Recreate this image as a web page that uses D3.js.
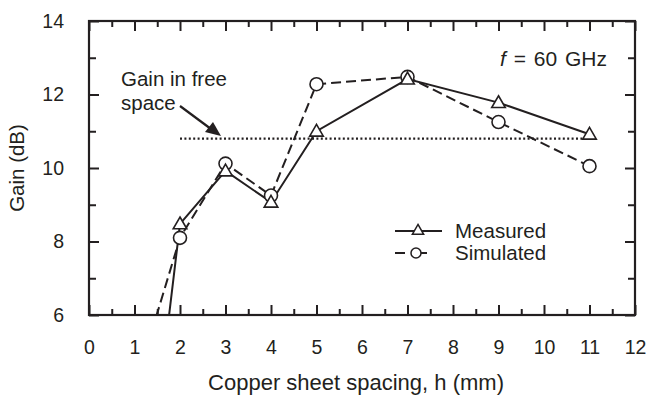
<!DOCTYPE html>
<html><head><meta charset="utf-8">
<script src="https://cdn.jsdelivr.net/npm/d3@7"></script>
<style>body{margin:0;background:#fff}svg{display:block}text{font-family:"Liberation Sans",Arial,sans-serif;fill:#231f20}</style>
</head><body><svg id="c" width="649" height="398"></svg>
<script>
const measuredX = [1.5, 2, 3, 4, 5, 7, 9, 11];
const measuredY = [3.3, 8.48, 9.92, 9.07, 11.0, 12.42, 11.78, 10.92];
const simulatedX = [1, 2, 3, 4, 5, 7, 9, 11];
const simulatedY = [4.0, 8.1, 10.12, 9.25, 12.28, 12.48, 11.25, 10.05];
const freeSpaceX = [2, 11.1];
const freeSpaceY = [10.8, 10.8];
const xTicks = [0,1,2,3,4,5,6,7,8,9,10,11,12];
const yTicks = [6,8,10,12,14];

const ink = "#231f20";
const svg = d3.select("#c");
const L=89,R=635,T=21,B=315;
const x = d3.scaleLinear().domain([0,12]).range([L,R]);
const y = d3.scaleLinear().domain([6,14]).range([B,T]);

svg.append("defs").append("clipPath").attr("id","clip")
  .append("rect").attr("x",L).attr("y",T).attr("width",R-L).attr("height",B-T);

function styleAxis(g){ g.select(".domain").remove(); g.selectAll("line").attr("stroke",ink).attr("stroke-width",2); g.selectAll("text").attr("font-size",19.5).style("font-family","'Liberation Sans',Arial,sans-serif").attr("fill",ink); }

const xMinor = d3.range(0.5,12,1);
const yMinor = d3.range(7,14,2);
// bottom
svg.append("g").attr("transform",`translate(0,${B})`).call(d3.axisBottom(x).tickValues(xTicks).tickSizeInner(-10).tickSizeOuter(0).tickPadding(25).tickFormat(d3.format("d"))).call(styleAxis);
svg.append("g").attr("transform",`translate(0,${B})`).call(d3.axisBottom(x).tickValues(xMinor).tickSizeInner(-6).tickSizeOuter(0).tickFormat("")).call(styleAxis);
// top
svg.append("g").attr("transform",`translate(0,${T})`).call(d3.axisTop(x).tickValues(xTicks).tickSizeInner(-10).tickSizeOuter(0).tickFormat("")).call(styleAxis);
svg.append("g").attr("transform",`translate(0,${T})`).call(d3.axisTop(x).tickValues(xMinor).tickSizeInner(-6).tickSizeOuter(0).tickFormat("")).call(styleAxis);
// left
svg.append("g").attr("transform",`translate(${L},0)`).call(d3.axisLeft(y).tickValues(yTicks).tickSizeInner(-10).tickSizeOuter(0).tickPadding(25).tickFormat(d3.format("d"))).call(styleAxis);
svg.append("g").attr("transform",`translate(${L},0)`).call(d3.axisLeft(y).tickValues(yMinor).tickSizeInner(-7).tickSizeOuter(0).tickFormat("")).call(styleAxis);
// right
svg.append("g").attr("transform",`translate(${R},0)`).call(d3.axisRight(y).tickValues(yTicks).tickSizeInner(-10).tickSizeOuter(0).tickFormat("")).call(styleAxis);
svg.append("g").attr("transform",`translate(${R},0)`).call(d3.axisRight(y).tickValues(yMinor).tickSizeInner(-7).tickSizeOuter(0).tickFormat("")).call(styleAxis);

svg.append("rect").attr("x",L).attr("y",T).attr("width",R-L).attr("height",B-T)
  .attr("fill","none").attr("stroke",ink).attr("stroke-width",2.2);

// free space dotted line
svg.append("line").attr("x1",x(freeSpaceX[0])).attr("x2",x(freeSpaceX[1])).attr("y1",y(freeSpaceY[0])).attr("y2",y(freeSpaceY[1]))
  .attr("stroke",ink).attr("stroke-width",2.2).attr("stroke-dasharray","2,2.4");

const line = d3.line().x(d=>x(d[0])).y(d=>y(d[1]));
const mData = measuredX.map((v,i)=>[v,measuredY[i]]);
const sData = simulatedX.map((v,i)=>[v,simulatedY[i]]);
const gl = svg.append("g").attr("clip-path","url(#clip)");
gl.append("path").datum(sData).attr("d",line).attr("fill","none").attr("stroke",ink).attr("stroke-width",2).attr("stroke-dasharray","10,5");
gl.append("path").datum(mData).attr("d",line).attr("fill","none").attr("stroke",ink).attr("stroke-width",2);

const tri = d3.symbol().type(d3.symbolTriangle).size(80);
gl.selectAll("circle.s").data(sData.filter(d=>d[1]>=6)).join("circle").attr("cx",d=>x(d[0])).attr("cy",d=>y(d[1])).attr("r",6.5)
  .attr("fill","#fff").attr("stroke",ink).attr("stroke-width",1.6);
gl.selectAll("path.m").data(mData.filter(d=>d[1]>=6)).join("path").attr("class","m").attr("d",tri)
  .attr("transform",d=>`translate(${x(d[0])},${y(d[1])+1})`).attr("fill","#fff").attr("stroke",ink).attr("stroke-width",1.6);

// axis titles
svg.append("text").attr("x",356).attr("y",390).attr("text-anchor","middle").attr("font-size",22).text("Copper sheet spacing, h (mm)");
svg.append("text").attr("transform",`translate(24,${(T+B)/2}) rotate(-90)`).attr("text-anchor","middle").attr("font-size",20.5).text("Gain (dB)");

// annotations
svg.append("text").attr("x",121).attr("y",86).attr("font-size",20.5).text("Gain in free");
svg.append("text").attr("x",121).attr("y",110).attr("font-size",20.5).text("space");
svg.append("line").attr("x1",180).attr("y1",106).attr("x2",211).attr("y2",129).attr("stroke",ink).attr("stroke-width",2.2);
svg.append("path").attr("d","M221,136 L205,132 L213,122 Z").attr("fill",ink);

const ft = svg.append("text").attr("x",607).attr("y",66).attr("text-anchor","end").attr("font-size",21).attr("word-spacing",2);
ft.append("tspan").attr("font-style","italic").text("f");
ft.append("tspan").text(" = 60 GHz");

// legend
svg.append("line").attr("x1",395).attr("x2",442).attr("y1",231).attr("y2",231).attr("stroke",ink).attr("stroke-width",2);
svg.append("path").attr("d",d3.symbol().type(d3.symbolTriangle).size(55)).attr("transform","translate(418,231)").attr("fill","#fff").attr("stroke",ink).attr("stroke-width",1.5);
svg.append("text").attr("x",455).attr("y",238).attr("font-size",20.5).text("Measured");
svg.append("line").attr("x1",395).attr("x2",437).attr("y1",253).attr("y2",253).attr("stroke",ink).attr("stroke-width",2).attr("stroke-dasharray","10,12");
svg.append("circle").attr("cx",416).attr("cy",253).attr("r",5).attr("fill","#fff").attr("stroke",ink).attr("stroke-width",1.5);
svg.append("text").attr("x",455).attr("y",260).attr("font-size",20.5).text("Simulated");
</script></body></html>
